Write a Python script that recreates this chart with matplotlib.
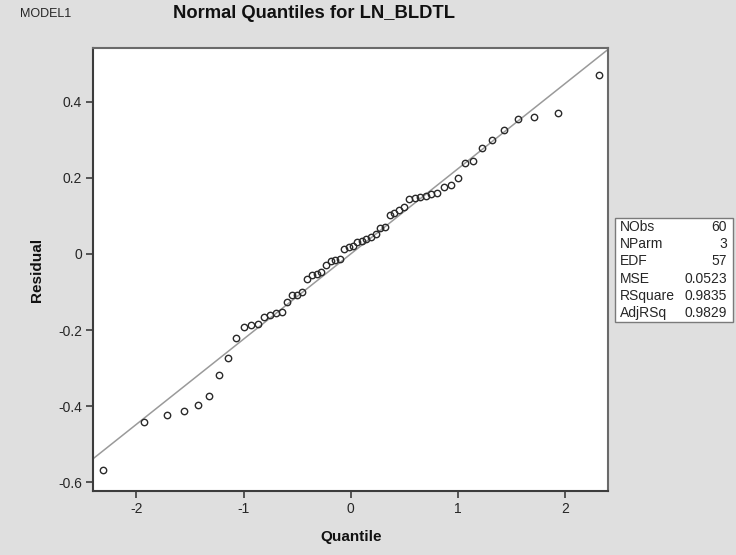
"""Normal quantile plot of LN_BLDTL residuals (MODEL1) with fit statistics box."""

import matplotlib

matplotlib.use("Agg")
import matplotlib.pyplot as plt
from matplotlib.patches import Rectangle


FONT = ["Liberation Sans", "Arial", "DejaVu Sans"]
BACKGROUND = "#dfdfdf"
FRAME_COLOR = "#3c3c3c"
TEXT_COLOR = "#262626"

# normal quantiles (x) and sorted residuals (y), 60 observations
QUANTILES = [
    -2.313, -1.927, -1.711, -1.554, -1.428, -1.320, -1.227, -1.142, -1.066, -0.995,
    -0.930, -0.867, -0.808, -0.752, -0.698, -0.645, -0.595, -0.546, -0.498, -0.452,
    -0.406, -0.361, -0.318, -0.274, -0.231, -0.189, -0.146, -0.104, -0.062, -0.021,
    0.021, 0.062, 0.104, 0.146, 0.189, 0.231, 0.274, 0.318, 0.361, 0.406,
    0.452, 0.498, 0.546, 0.595, 0.645, 0.698, 0.752, 0.808, 0.867, 0.930,
    0.995, 1.066, 1.142, 1.227, 1.320, 1.428, 1.554, 1.711, 1.927, 2.313,
]
RESIDUALS = [
    -0.568, -0.442, -0.424, -0.412, -0.397, -0.373, -0.317, -0.273, -0.220, -0.193,
    -0.186, -0.183, -0.167, -0.161, -0.155, -0.152, -0.126, -0.108, -0.107, -0.099,
    -0.065, -0.055, -0.052, -0.047, -0.030, -0.019, -0.015, -0.013, 0.013, 0.017,
    0.020, 0.032, 0.035, 0.038, 0.044, 0.052, 0.067, 0.071, 0.101, 0.107,
    0.114, 0.124, 0.144, 0.146, 0.150, 0.153, 0.157, 0.161, 0.175, 0.181,
    0.200, 0.238, 0.245, 0.279, 0.300, 0.325, 0.354, 0.360, 0.369, 0.470,
]

# reference line: intercept 0, slope about root MSE
LINE_INTERCEPT = 0.0
LINE_SLOPE = 0.224

X_TICKS = [-2, -1, 0, 1, 2]
Y_TICKS = [-0.6, -0.4, -0.2, 0, 0.2, 0.4]
Y_TICK_LABELS = ["-0.6", "-0.4", "-0.2", "0", "0.2", "0.4"]

STAT_NAMES = ["NObs", "NParm", "EDF", "MSE", "RSquare", "AdjRSq"]
STAT_VALUES = ["60", "3", "57", "0.0523", "0.9835", "0.9829"]


def draw_stats_box(fig):
    # box coordinates in figure fraction (736 x 555 px canvas)
    left, right = 615 / 736, 733 / 736
    top, bottom = 1 - 218 / 555, 1 - 322 / 555
    fig.patches.append(
        Rectangle(
            (left, bottom), right - left, top - bottom,
            transform=fig.transFigure, facecolor="white",
            edgecolor="#7a7a7a", linewidth=1.0,
        )
    )
    row_h = (top - bottom) / len(STAT_NAMES)
    for k, (name, value) in enumerate(zip(STAT_NAMES, STAT_VALUES)):
        y = top - (k + 0.5) * row_h
        fig.text(left + 5 / 736, y, name, ha="left", va="center",
                 fontsize=10, family=FONT, color=TEXT_COLOR)
        fig.text(right - 6 / 736, y, value, ha="right", va="center",
                 fontsize=10, family=FONT, color=TEXT_COLOR)


def main():
    fig = plt.figure(figsize=(7.36, 5.55), dpi=100, facecolor=BACKGROUND)
    ax = fig.add_axes([93.3 / 736, 1 - 490.7 / 555, 515 / 736, 442.4 / 555])
    ax.set_facecolor("white")

    x_min, x_max = -2.40, 2.40
    ax.plot(
        [x_min, x_max],
        [LINE_INTERCEPT + LINE_SLOPE * x_min, LINE_INTERCEPT + LINE_SLOPE * x_max],
        color="#9a9a9a", linewidth=1.1, zorder=1,
    )
    ax.plot(
        QUANTILES, RESIDUALS, linestyle="none", marker="o", markersize=4.6,
        markerfacecolor="none", markeredgecolor="#2a2a2a", markeredgewidth=1.0,
        zorder=2,
    )

    ax.set_xlim(x_min, x_max)
    ax.set_ylim(-0.622, 0.540)
    ax.set_xticks(X_TICKS)
    ax.set_xticklabels([str(t) for t in X_TICKS])
    ax.set_yticks(Y_TICKS)
    ax.set_yticklabels(Y_TICK_LABELS)
    ax.tick_params(direction="out", length=5, width=1.2, color=FRAME_COLOR,
                   labelsize=10, labelcolor=TEXT_COLOR, pad=3)
    for label in ax.get_xticklabels() + ax.get_yticklabels():
        label.set_family(FONT)
    for spine in ax.spines.values():
        spine.set_color(FRAME_COLOR)
        spine.set_linewidth(1.5)
    ax.spines["right"].set_color("#6a6a6a")
    ax.spines["top"].set_color("#6a6a6a")

    ax.set_xlabel("Quantile", fontsize=11, fontweight="bold", family=FONT,
                  color="#111111", labelpad=10)
    ax.set_ylabel("Residual", fontsize=11, fontweight="bold", family=FONT,
                  color="#111111", labelpad=10)

    fig.text(20 / 736, 1 - 14 / 555, "MODEL1", ha="left", va="center",
             fontsize=9, family=FONT, color=TEXT_COLOR)
    fig.text(314 / 736, 1 - 14 / 555, "Normal Quantiles for LN_BLDTL",
             ha="center", va="center", fontsize=13.2, fontweight="bold",
             family=FONT, color="#111111")

    draw_stats_box(fig)
    fig.savefig("out.png", dpi=100, facecolor=BACKGROUND)
    plt.close(fig)


if __name__ == "__main__":
    main()
